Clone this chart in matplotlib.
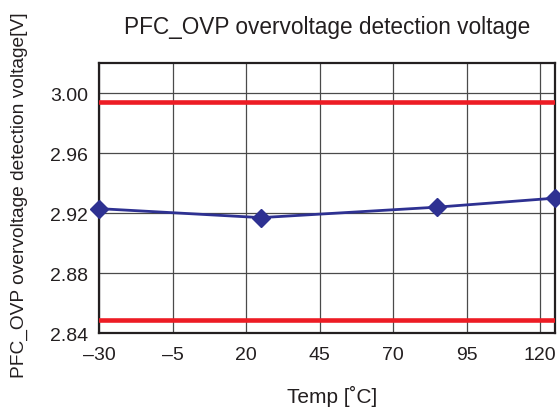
import matplotlib
matplotlib.use("Agg")
import matplotlib.pyplot as plt

# measured data
temps = [-30, 25, 85, 125]
volts = [2.923, 2.917, 2.924, 2.930]
upper_limit = 2.994
lower_limit = 2.849
xticks = [-30, -5, 20, 45, 70, 95, 120]
yticks = [2.84, 2.88, 2.92, 2.96, 3.00]

plt.rcParams['font.family'] = ['Liberation Sans', 'DejaVu Sans']
ink = '#231f20'

fig = plt.figure(figsize=(5.6, 4.14), dpi=100)
ax = fig.add_axes([0.177, 0.193, 0.814, 0.652])

# spec limits
ax.axhline(upper_limit, color='#ed1c24', lw=3.3, zorder=3)
ax.axhline(lower_limit, color='#ed1c24', lw=3.3, zorder=3)

ax.plot(temps, volts, color='#2e3192', lw=2, marker='D', markersize=9.5,
        clip_on=False, zorder=4)

ax.set_xlim(-30, 125)
ax.set_ylim(2.84, 3.02)
ax.set_xticks(xticks)
ax.set_xticklabels([str(t).replace('-', '\u2013') for t in xticks])
ax.set_yticks(yticks)
ax.set_yticklabels(['%.2f' % v for v in yticks])
ax.tick_params(length=0, labelsize=14, colors=ink)
ax.tick_params(axis='x', pad=9)
ax.tick_params(axis='y', pad=8)
ax.grid(True, color='#4a4a4a', lw=0.9)

for s in ax.spines.values():
    s.set_linewidth(1.6)
    s.set_color(ink)

ax.set_title('PFC_OVP overvoltage detection voltage', fontsize=16.3,
             color=ink, pad=22)
fig.text(332 / 560, 1 - 396 / 414, 'Temp [\u02daC]', fontsize=15, color=ink,
         ha='center', va='center')
fig.text(19 / 560, 1 - 195 / 414, 'PFC_OVP overvoltage detection voltage[V]',
         fontsize=13.8, color=ink, rotation=90, ha='center', va='center')

plt.savefig('out.png', dpi=100)
